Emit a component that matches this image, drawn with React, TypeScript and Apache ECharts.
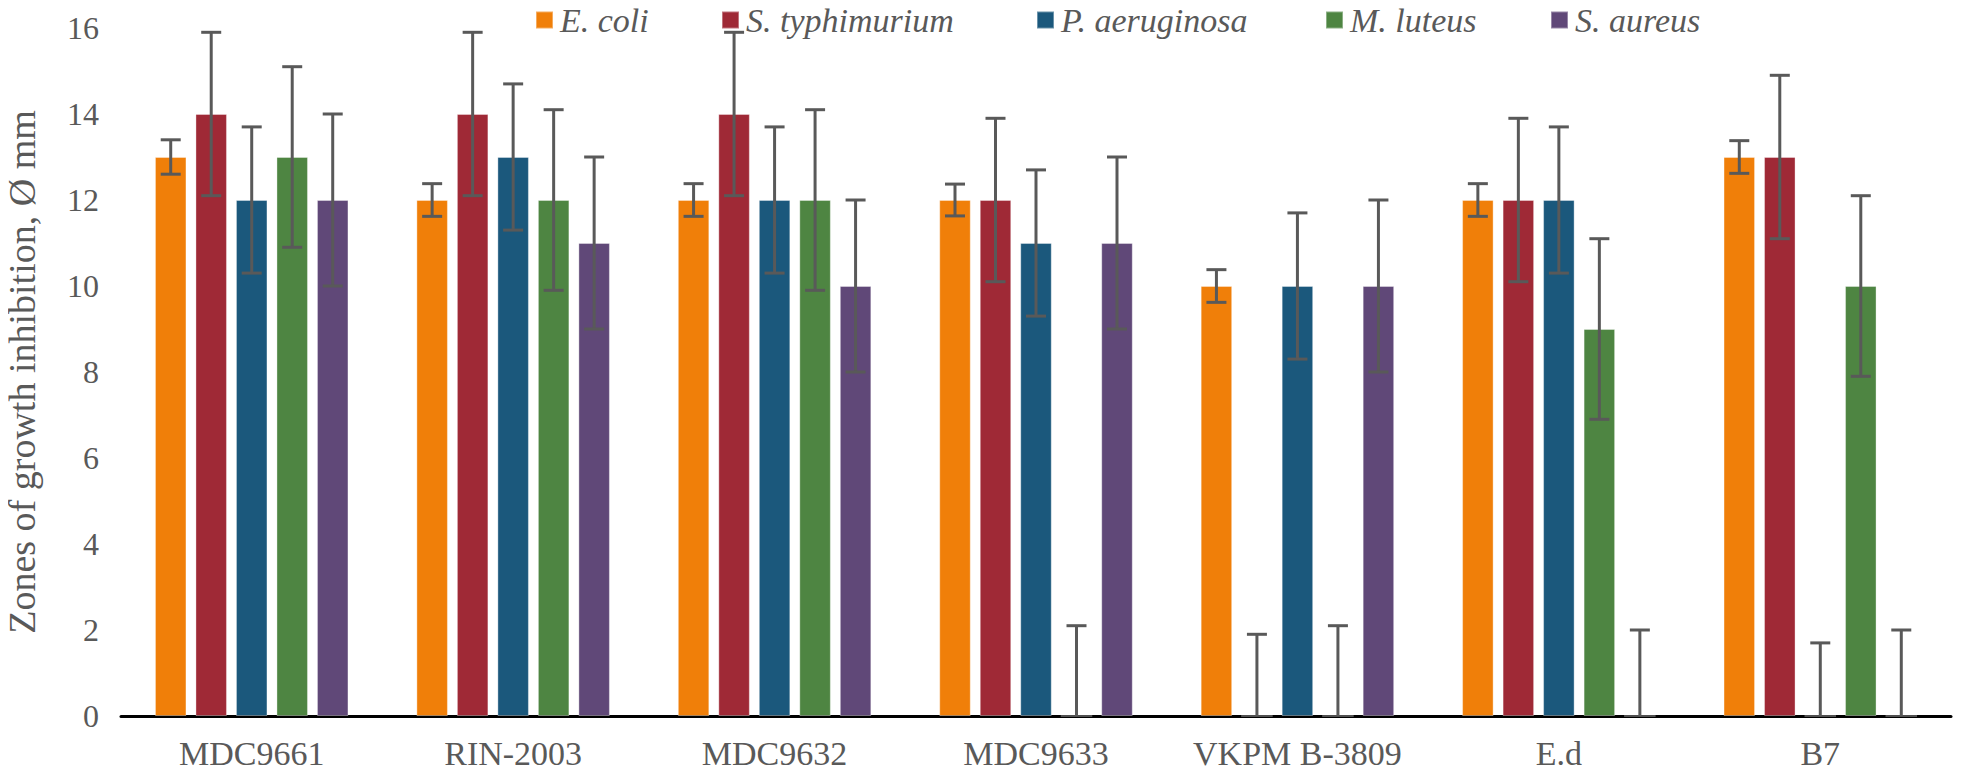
import React, { useEffect, useRef } from "react";
import * as echarts from "echarts";

const categories = ["MDC9661", "RIN-2003", "MDC9632", "MDC9633", "VKPM B-3809", "E.d", "B7"];
const seriesNames = ["E. coli", "S. typhimurium", "P. aeruginosa", "M. luteus", "S. aureus"];
const colors = ["#F07F09", "#9F2936", "#1B587C", "#4E8542", "#604878"];

const eColi = [13, 12, 12, 12, 10, 12, 13];
const sTyphimurium = [14, 14, 14, 12, 0, 12, 13];
const pAeruginosa = [12, 13, 12, 11, 10, 12, 0];
const mLuteus = [13, 12, 12, 0, 0, 9, 10];
const sAureus = [12, 11, 10, 11, 10, 0, 0];

const eColiErr = [0.4, 0.38, 0.38, 0.37, 0.38, 0.38, 0.38];
const sTyphimuriumErr = [1.9, 1.9, 1.9, 1.9, 1.9, 1.9, 1.9];
const pAeruginosaErr = [1.7, 1.7, 1.7, 1.7, 1.7, 1.7, 1.7];
const mLuteusErr = [2.1, 2.1, 2.1, 2.1, 2.1, 2.1, 2.1];
const sAureusErr = [2.0, 2.0, 2.0, 2.0, 2.0, 2.0, 2.0];

const yTicks = [0, 2, 4, 6, 8, 10, 12, 14, 16];

const values = [eColi, sTyphimurium, pAeruginosa, mLuteus, sAureus];
const errors = [eColiErr, sTyphimuriumErr, pAeruginosaErr, mLuteusErr, sAureusErr];

const legendLeft = [535, 721, 1036, 1325, 1550];

const BAR_W = 31.5;
const BAR_GAP = 9;
const FONT = "Liberation Serif";

export default function App() {
  const ref = useRef<HTMLDivElement>(null);
  useEffect(() => {
    if (!ref.current) return;
    const chart = echarts.init(ref.current, undefined, { renderer: "svg" });
    const barSeries = seriesNames.map((name, i) => ({
      name,
      type: "bar",
      data: values[i],
      barWidth: BAR_W,
      barGap: (BAR_GAP / BAR_W) * 100 + "%",
      itemStyle: { color: colors[i], borderColor: "rgba(255,255,255,0.35)", borderWidth: 1 },
      z: 2,
    }));
    const errSeries = seriesNames.map((name, i) => ({
      name: name + " err",
      type: "custom",
      z: 5,
      silent: true,
      data: values[i].map((v, k) => [k, v - errors[i][k], v + errors[i][k]]),
      renderItem: (params: any, api: any) => {
        const cat = api.value(0);
        const lo = api.value(1);
        const hi = api.value(2);
        const offset = (i - 2) * (BAR_W + BAR_GAP);
        const pHi = api.coord([cat, hi]);
        const x = pHi[0] + offset;
        const loClamped = Math.max(lo, 0);
        const pLo = api.coord([cat, loClamped]);
        const cap = 10;
        const style = { stroke: "#595959", lineWidth: 3 };
        const children: any[] = [
          { type: "line", shape: { x1: x, y1: pHi[1], x2: x, y2: pLo[1] }, style },
          { type: "line", shape: { x1: x - cap, y1: pHi[1], x2: x + cap, y2: pHi[1] }, style },
        ];
        if (lo >= 0) {
          children.push({ type: "line", shape: { x1: x - cap, y1: pLo[1], x2: x + cap, y2: pLo[1] }, style });
        }
        return { type: "group", children };
      },
    }));
    const legends = seriesNames.map((n, i) => ({
      data: [{ name: n, itemStyle: { color: colors[i] } }],
      top: 3,
      left: legendLeft[i],
      padding: 0,
      itemWidth: 17,
      itemHeight: 17,
      itemGap: 0,
      icon: "rect",
      selectedMode: false,
      textStyle: { fontFamily: FONT, fontStyle: "italic", fontSize: 34, color: "#595959", padding: [0, 0, 0, 2] },
    }));
    chart.setOption({
      animation: false,
      backgroundColor: "#ffffff",
      grid: { left: 121, right: 10, top: 28, bottom: 62, outerBoundsMode: "none", containLabel: false },
      legend: legends,
      xAxis: {
        type: "category",
        data: categories,
        axisLine: { lineStyle: { color: "#000000", width: 3 } },
        axisTick: { show: false },
        axisLabel: { interval: 0, fontFamily: FONT, fontSize: 34, color: "#595959", margin: 20 },
      },
      yAxis: {
        type: "value",
        min: yTicks[0],
        max: yTicks[yTicks.length - 1],
        interval: 2,
        axisLine: { show: false },
        axisTick: { show: false },
        splitLine: { show: false },
        axisLabel: { fontFamily: FONT, fontSize: 32, color: "#595959", margin: 22 },
        name: "Zones of growth inhibition, Ø mm",
        nameLocation: "middle",
        nameRotate: 90,
        nameGap: 80,
        nameTextStyle: { fontFamily: FONT, fontSize: 38, color: "#595959" },
      },
      series: [...barSeries, ...errSeries],
    });
    return () => chart.dispose();
  }, []);
  return <div ref={ref} style={{ width: 1961, height: 778, margin: -8 }} />;
}
